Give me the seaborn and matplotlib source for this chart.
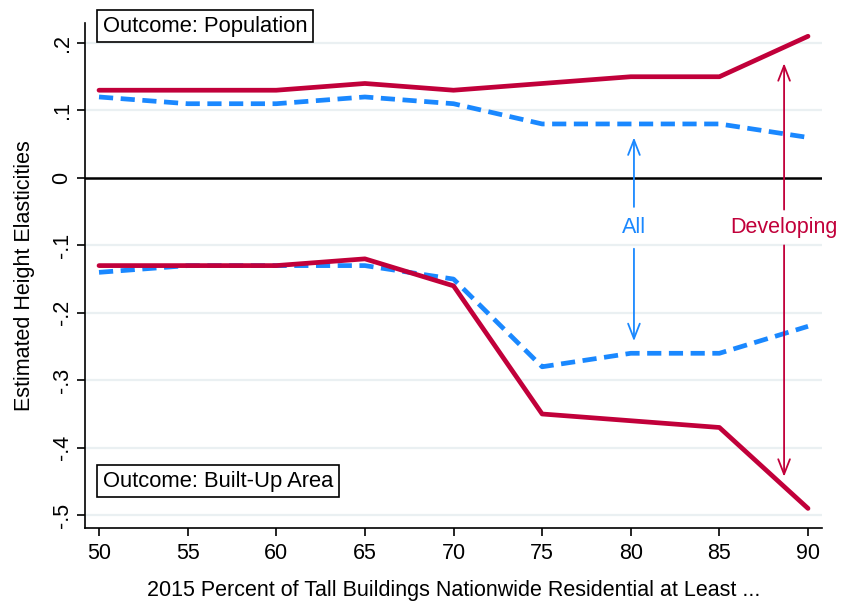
import matplotlib
matplotlib.use("Agg")
import matplotlib.pyplot as plt
import seaborn as sns
import pandas as pd

thresholds = [50, 55, 60, 65, 70, 75, 80, 85, 90]
dev_pop = [0.13, 0.13, 0.13, 0.14, 0.13, 0.14, 0.15, 0.15, 0.21]
all_pop = [0.12, 0.11, 0.11, 0.12, 0.11, 0.08, 0.08, 0.08, 0.06]
dev_area = [-0.13, -0.13, -0.13, -0.12, -0.16, -0.35, -0.36, -0.37, -0.49]
all_area = [-0.14, -0.13, -0.13, -0.13, -0.15, -0.28, -0.26, -0.26, -0.22]
yticks = [0.2, 0.1, 0.0, -0.1, -0.2, -0.3, -0.4, -0.5]
ytick_labels = [".2", ".1", "0", "-.1", "-.2", "-.3", "-.4", "-.5"]
xticks = [50, 55, 60, 65, 70, 75, 80, 85, 90]

RED = "#c1003a"
BLUE = "#1a88ff"
FS = 15.5

sns.set_theme(style="white")
plt.rcParams["font.family"] = ["Liberation Sans", "DejaVu Sans"]
plt.rcParams["text.color"] = "black"
plt.rcParams["axes.labelcolor"] = "black"
plt.rcParams["xtick.color"] = "black"
plt.rcParams["ytick.color"] = "black"

fig = plt.figure(figsize=(8.45, 6.03), dpi=100)
ax = fig.add_axes([0.1006, 0.1244, 0.8722, 0.8375])

for yt in yticks:
    if yt != 0:
        ax.axhline(yt, color="#eaf0f2", lw=1.6, zorder=0)
ax.axhline(0, color="black", lw=1.8, zorder=1)

df = pd.DataFrame({"x": thresholds, "dev_pop": dev_pop, "all_pop": all_pop,
                   "dev_area": dev_area, "all_area": all_area})
for col in ["all_pop", "all_area"]:
    sns.lineplot(data=df, x="x", y=col, ax=ax, color=BLUE, lw=3.4,
                 dashes=[(3.0, 1.6)], style=[0]*len(df), legend=False, zorder=3)
for col in ["dev_pop", "dev_area"]:
    sns.lineplot(data=df, x="x", y=col, ax=ax, color=RED, lw=3.4,
                 legend=False, zorder=4, solid_capstyle="round")

ax.set_xlim(49.21, 90.79)
ax.set_ylim(-0.519, 0.2297)
ax.set_xticks(xticks)
ax.set_yticks(yticks)
ax.set_yticklabels(ytick_labels, rotation=90, va="center")
ax.tick_params(axis="both", labelsize=FS, length=6, width=1.2, color="black",
               labelcolor="black", direction="out", left=True, bottom=True)
ax.tick_params(axis="y", pad=3)
ax.tick_params(axis="x", pad=5)
for s in ["top", "right"]:
    ax.spines[s].set_visible(False)
for s in ["left", "bottom"]:
    ax.spines[s].set_color("black")
    ax.spines[s].set_linewidth(1.2)

ax.set_xlabel("2015 Percent of Tall Buildings Nationwide Residential at Least ...",
              fontsize=FS, labelpad=11, color="black")
ax.set_ylabel("Estimated Height Elasticities", fontsize=FS, labelpad=12, color="black")

box = dict(boxstyle="square,pad=0.26", fc="white", ec="black", lw=1.2)
ax.text(0.024, 0.994, "Outcome: Population", transform=ax.transAxes, fontsize=15.8,
        va="center", ha="left", bbox=box, clip_on=False, zorder=6, color="black")
ax.text(0.024, 0.093, "Outcome: Built-Up Area", transform=ax.transAxes, fontsize=15.8,
        va="center", ha="left", bbox=box, clip_on=False, zorder=6, color="black")

arrow_kw_b = dict(arrowstyle="->,head_length=0.9,head_width=0.35", color=BLUE, lw=1.3,
                  shrinkA=0, shrinkB=0)
arrow_kw_r = dict(arrowstyle="->,head_length=0.9,head_width=0.35", color=RED, lw=1.3,
                  shrinkA=0, shrinkB=0)
ax_all = 80.18
ax.annotate("", xy=(ax_all, 0.060), xytext=(ax_all, -0.043), arrowprops=arrow_kw_b, zorder=5)
ax.annotate("", xy=(ax_all, -0.242), xytext=(ax_all, -0.105), arrowprops=arrow_kw_b, zorder=5)
ax.text(ax_all, -0.073, "All", color=BLUE, fontsize=FS, ha="center", va="center")
ax_dev = 88.65
ax.annotate("", xy=(ax_dev, 0.170), xytext=(ax_dev, -0.047), arrowprops=arrow_kw_r, zorder=5)
ax.annotate("", xy=(ax_dev, -0.443), xytext=(ax_dev, -0.100), arrowprops=arrow_kw_r, zorder=5)
ax.text(ax_dev, -0.073, "Developing", color=RED, fontsize=FS, ha="center", va="center",
        clip_on=False)

fig.savefig("out.png", dpi=100)
